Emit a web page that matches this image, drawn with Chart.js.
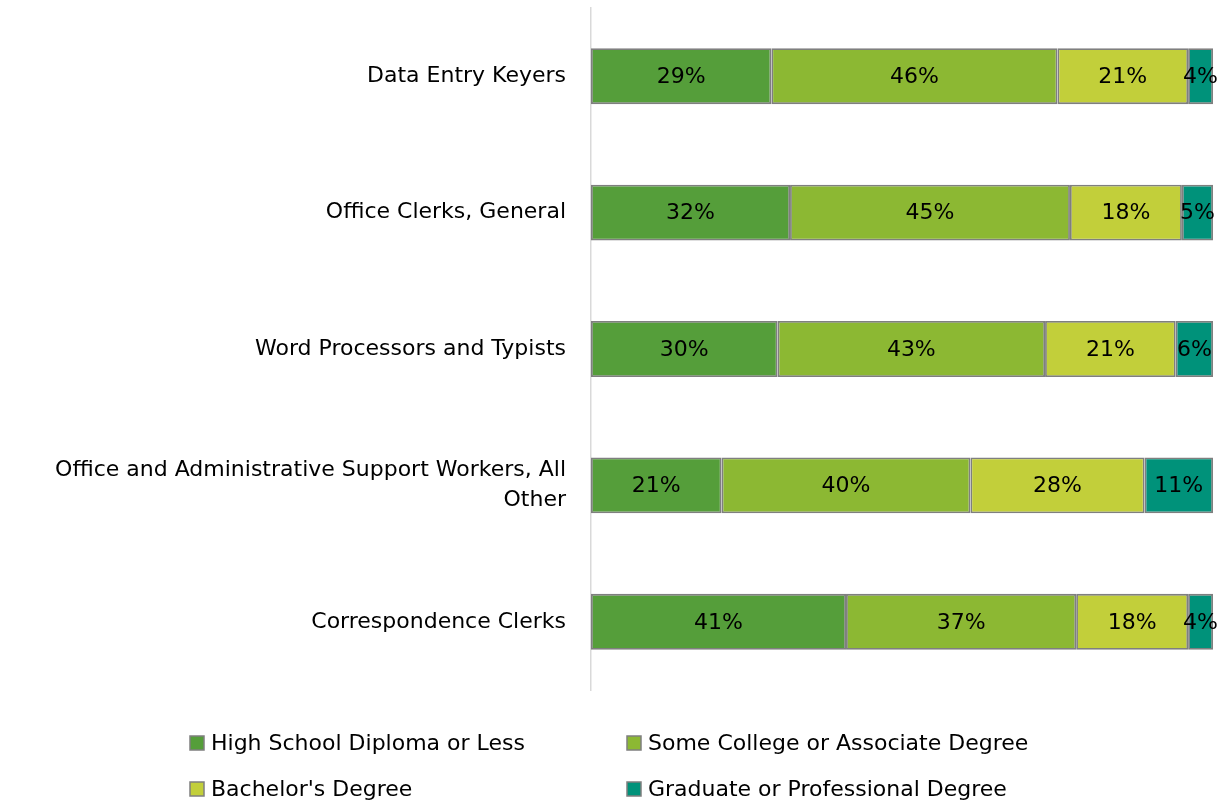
<!DOCTYPE html>
<html>
<head>
<meta charset="utf-8">
<script src="https://cdn.jsdelivr.net/npm/chart.js@4"></script>
<style>
  html, body { margin: 0; padding: 0; background: #fff; }
  #wrap { width: 1231px; height: 806px; position: relative; }
</style>
</head>
<body>
<div id="wrap"><canvas id="barChart" width="1231" height="806"></canvas></div>
<script>
const occupations = [
  "Data Entry Keyers",
  "Office Clerks, General",
  "Word Processors and Typists",
  ["Office and Administrative Support Workers, All", "Other"],
  "Correspondence Clerks",
];
const seriesNames = [
  "High School Diploma or Less",
  "Some College or Associate Degree",
  "Bachelor's Degree",
  "Graduate or Professional Degree",
];
const highSchool = [29, 32, 30, 21, 41];
const someCollege = [46, 45, 43, 40, 37];
const bachelors = [21, 18, 21, 28, 18];
const graduate = [4, 5, 6, 11, 4];
const colors = ["#559e3a", "#8cb833", "#c2cf3a", "#00927a"];

const FONT = "'DejaVu Sans', sans-serif";
const FONT_SIZE = 22;

// draws the percentage in the middle of each segment
const segmentLabels = {
  id: "segmentLabels",
  afterDatasetsDraw(chart) {
    const ctx = chart.ctx;
    ctx.save();
    ctx.font = FONT_SIZE + "px " + FONT;
    ctx.fillStyle = "#000";
    ctx.textAlign = "center";
    ctx.textBaseline = "middle";
    chart.data.datasets.forEach((ds, i) => {
      chart.getDatasetMeta(i).data.forEach((bar, j) => {
        const cx = (bar.x + bar.base) / 2;
        ctx.fillText(ds.data[j] + "%", cx, bar.y + 1);
      });
    });
    ctx.restore();
  },
};

// two-column legend under the plot
const gridLegend = {
  id: "gridLegend",
  afterDraw(chart) {
    const ctx = chart.ctx;
    const cols = [190, 627];
    const rows = [743, 789];
    ctx.save();
    ctx.font = FONT_SIZE + "px " + FONT;
    ctx.textBaseline = "middle";
    ctx.textAlign = "left";
    chart.data.datasets.forEach((ds, i) => {
      const x = cols[i % 2];
      const y = rows[Math.floor(i / 2)];
      ctx.fillStyle = ds.backgroundColor;
      ctx.fillRect(x, y - 7, 14, 14);
      ctx.strokeStyle = "#7f7f7f";
      ctx.lineWidth = 1.5;
      ctx.strokeRect(x, y - 7, 14, 14);
      ctx.fillStyle = "#000";
      ctx.fillText(ds.label, x + 21, y + 1);
    });
    ctx.restore();
  },
};

const values = [highSchool, someCollege, bachelors, graduate];

new Chart(document.getElementById("barChart").getContext("2d"), {
  type: "bar",
  data: {
    labels: occupations,
    datasets: seriesNames.map((name, i) => ({
      label: name,
      data: values[i],
      backgroundColor: colors[i],
      borderColor: "#7f7f7f",
      borderWidth: 1.8,
      borderSkipped: false,
      categoryPercentage: 1,
      barPercentage: 0.41,
    })),
  },
  options: {
    indexAxis: "y",
    responsive: false,
    animation: false,
    layout: { padding: { top: 8, right: 18, bottom: 116, left: 0 } },
    scales: {
      x: { stacked: true, min: 0, max: 100, display: false },
      y: {
        stacked: true,
        afterFit(scale) {
          scale.width = 591;
          scale.paddingTop = 0;
          scale.paddingBottom = 0;
        },
        grid: { display: false, drawTicks: false },
        border: { display: true, color: "#d9d9d9", width: 1.5 },
        ticks: {
          padding: 25,
          color: "#000",
          font: { family: FONT, size: FONT_SIZE, lineHeight: 1.36 },
        },
      },
    },
    plugins: {
      legend: { display: false },
      tooltip: { enabled: false },
    },
  },
  plugins: [segmentLabels, gridLegend],
});
</script>
</body>
</html>
